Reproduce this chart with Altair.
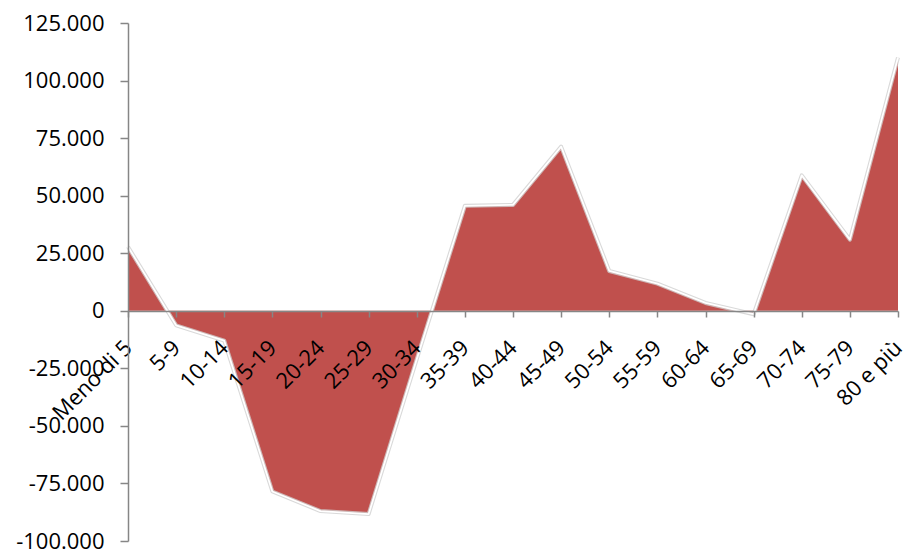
import altair as alt
import pandas as pd

categories = ["Meno di 5", "5-9", "10-14", "15-19", "20-24", "25-29", "30-34",
              "35-39", "40-44", "45-49", "50-54", "55-59", "60-64", "65-69",
              "70-74", "75-79", "80 e più"]
values = [27800, -6300, -13000, -78500, -87000, -88300, -21000,
          45600, 46000, 71300, 17300, 11800, 3400, -1500,
          58800, 30900, 110000]
y_ticks = [-100000, -75000, -50000, -25000, 0, 25000, 50000, 75000, 100000, 125000]

df = pd.DataFrame({"cat": categories, "val": values})

FONT = "Open Sans"
FS = 22
H = 518
zero_offset = -int(round(H * 100000 / 225000))

x_enc = alt.X("cat:O", sort=categories, title=None,
              scale=alt.Scale(type="point", padding=0),
              axis=alt.Axis(orient="bottom", offset=zero_offset, labelAngle=-45,
                            labelAlign="right", labelBaseline="middle",
                            labelPadding=27, tickSize=6, domainColor="#868686",
                            tickColor="#868686", domainWidth=1.5, tickWidth=1.5,
                            labelFont=FONT, labelFontSize=FS, labelColor="black",
                            zindex=1, grid=False, labelOverlap=False))
y_enc = alt.Y("val:Q", title=None, stack=None,
              scale=alt.Scale(domain=[-100000, 125000], nice=False, zero=True),
              axis=alt.Axis(values=y_ticks,
                            labelExpr="(datum.value < 0 ? '-' : '') + replace(format(abs(datum.value), ','), ',', '.')",
                            tickSize=8, domainColor="#868686", tickColor="#868686",
                            domainWidth=1.5, tickWidth=1.5, labelFont=FONT, labelFontSize=FS,
                            labelColor="black", labelPadding=16, grid=False, zindex=1))

base = alt.Chart(df).encode(x=x_enc, y=y_enc)

area = base.mark_area(color="#C0504D", opacity=1)
shadow = base.mark_line(color="#d0d0d0", strokeWidth=4, opacity=0.8, strokeJoin="round")
edge = base.mark_line(color="white", strokeWidth=1.8, strokeJoin="round")

chart = alt.layer(area, shadow, edge).properties(
    width=770, height=H,
    autosize=alt.AutoSizeParams(type="none"),
    padding={"left": 128, "top": 23, "right": 9, "bottom": 8},
).configure_view(stroke=None)

chart.save("out.html", embed_options={"renderer": "svg", "actions": False})
